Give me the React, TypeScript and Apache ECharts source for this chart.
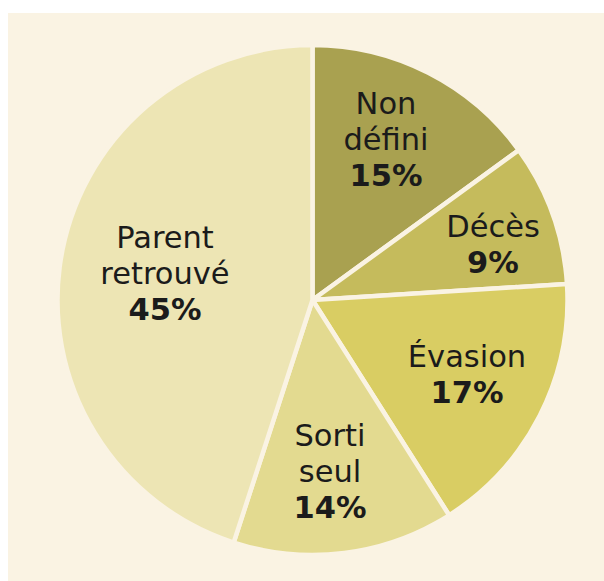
import React, { useEffect, useRef } from "react";
import * as echarts from "echarts";

const categories = ["Non défini", "Décès", "Évasion", "Sorti seul", "Parent retrouvé"];
const values = [15, 9, 17, 14, 45];
const colors = ["#a9a150", "#c5bb5c", "#d9cd63", "#e3da90", "#ede5b4"];
// label centre offsets from the pie centre (layout only)
const labelOffsets: [number, number][] = [
  [73.5, -161],
  [180.5, -56],
  [154.5, 74],
  [17.5, 171],
  [-147.5, -27],
];

const BG = "#faf3e3";
const CX = 304.5;
const CY = 287;
const R = 255;
const FONT = "DejaVu Sans";

export default function App() {
  const ref = useRef<HTMLDivElement>(null);
  useEffect(() => {
    if (!ref.current) return;
    const chart = echarts.init(ref.current, undefined, { renderer: "svg" });
    chart.setOption({
      animation: false,
      backgroundColor: BG,
      series: [
        {
          type: "pie",
          center: [CX, CY],
          radius: [0, R],
          startAngle: 90,
          clockwise: true,
          silent: true,
          emphasis: { disabled: true },
          itemStyle: { borderColor: BG, borderWidth: 4.5 },
          labelLine: { show: false },
          label: {
            show: true,
            position: "inside",
            align: "center",
            verticalAlign: "middle",
            formatter: (p: any) =>
              p.name
                .split(" ")
                .map((w: string) => `{n|${w}}`)
                .join("\n") + `\n{p|${p.value}%}`,
            rich: {
              n: {
                fontFamily: FONT,
                fontSize: 30.5,
                lineHeight: 36,
                color: "#1b1b1b",
                align: "center",
              },
              p: {
                fontFamily: FONT,
                fontSize: 30.5,
                fontWeight: "bold",
                lineHeight: 36,
                color: "#1b1b1b",
                align: "center",
              },
            },
          },
          labelLayout: (params: any) => {
            const o = labelOffsets[params.dataIndex];
            return {
              x: CX + o[0],
              y: CY + o[1],
              align: "center",
              verticalAlign: "middle",
            };
          },
          data: categories.map((c, i) => ({
            name: c,
            value: values[i],
            itemStyle: { color: colors[i] },
          })),
        },
      ],
    });
    return () => chart.dispose();
  }, []);
  return (
    <div
      ref={ref}
      style={{ position: "fixed", left: 8, top: 13, width: 596, height: 568 }}
    />
  );
}
